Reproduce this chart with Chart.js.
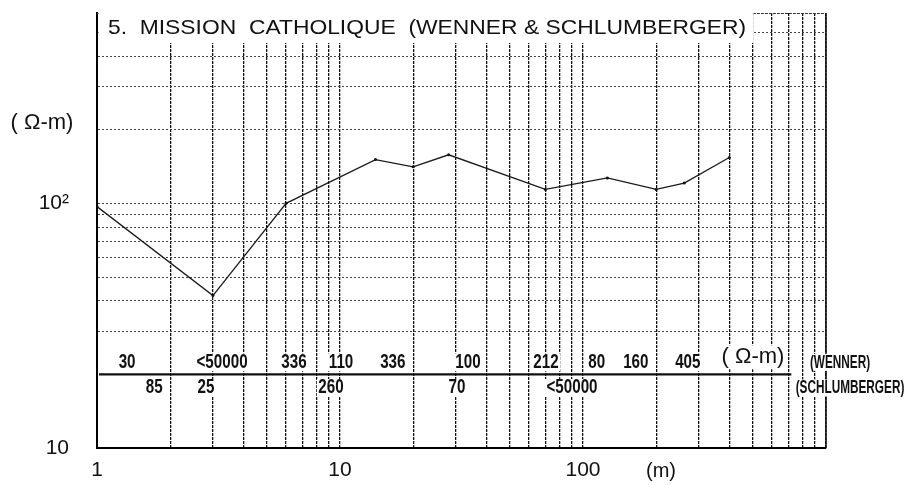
<!DOCTYPE html>
<html>
<head>
<meta charset="utf-8">
<script src="https://cdn.jsdelivr.net/npm/chart.js@4.4.1/dist/chart.umd.min.js"></script>
<style>
  html, body { margin: 0; padding: 0; background: #fff; }
  #wrap { width: 917px; height: 485px; }
</style>
</head>
<body>
<div id="wrap"><canvas id="chart"></canvas></div>
<script>
// sounding curve : electrode spacing (m) vs apparent resistivity (ohm-m)
const spacing     = [1, 3, 6, 14, 20, 28, 70, 126, 200, 261, 400];
const resistivity = [97, 42, 100, 151, 141, 158, 114, 127, 114, 121, 154];

// log grid + tick labels
const xGrid = [1,2,3,4,5,6,7,8,9,10,20,30,40,50,60,70,80,90,100,200,300,400,500,600,700,800,900,1000];
const yGrid = [10,20,30,40,50,60,70,80,90,100,200,300,400,500,600];
const xTickValues = [1, 10, 100];
const xTickLabels = ['1', '10', '100'];
const yTickValues = [10, 100];
const yTickLabels = ['10', '10²'];

// interpreted layer resistivities (ohm-m), placed at mid-depth of each layer (m)
const wennerPos = [1.33, 3.27, 6.47, 10.1, 16.5, 33.6, 70.4, 114, 165, 270];
const wennerRho = ['30', '<50000', '336', '110', '336', '100', '212', '80', '160', '405'];
const schlumPos = [1.72, 2.81, 9.18, 30.3, 90.1];
const schlumRho = ['85', '25', '260', '70', '<50000'];
const wennerRowY = 22.4;
const schlumRowY = 17.6;
const splitY = 20;

const FONT = '"Liberation Sans", Arial, sans-serif';
const TITLE = '5.  MISSION  CATHOLIQUE  (WENNER & SCHLUMBERGER)';

const annot = {
  id: 'annot',
  beforeDatasetsDraw(chart) {
    const {ctx, chartArea: a, scales: {x, y}} = chart;
    ctx.save();

    // top (dotted) and right frame
    ctx.strokeStyle = '#333';
    ctx.lineWidth = 1;
    ctx.setLineDash([2, 2]);
    ctx.beginPath(); ctx.moveTo(a.left, a.top + 0.5); ctx.lineTo(a.right, a.top + 0.5); ctx.stroke();
    ctx.setLineDash([]);
    ctx.strokeStyle = '#111';
    ctx.lineWidth = 1.6;
    ctx.beginPath(); ctx.moveTo(a.right, a.top); ctx.lineTo(a.right, a.bottom); ctx.stroke();

    // thick separator between the two rows
    const ys = y.getPixelForValue(splitY);
    ctx.lineWidth = 2.2;
    ctx.beginPath(); ctx.moveTo(a.left + 2, ys); ctx.lineTo(x.getPixelForValue(720), ys); ctx.stroke();

    // title box
    ctx.fillStyle = '#fff';
    ctx.fillRect(a.left + 1.5, a.top - 1, 655, 31);
    ctx.font = '21px ' + FONT;
    const tw = ctx.measureText(TITLE).width;
    ctx.save();
    ctx.translate(108, a.top + 21);
    ctx.scale(638 / tw, 1);
    ctx.fillStyle = '#111';
    ctx.textAlign = 'left';
    ctx.textBaseline = 'alphabetic';
    ctx.fillText(TITLE, 0, 0);
    ctx.restore();

    function narrow(txt, cx, cy, size, sx) {
      ctx.font = 'bold ' + size + 'px ' + FONT;
      const w = ctx.measureText(txt).width * sx;
      ctx.fillStyle = '#fff';
      ctx.fillRect(cx - w / 2 - 1.5, cy - size * 0.45, w + 3, size * 0.9);
      ctx.save();
      ctx.translate(cx, cy);
      ctx.scale(sx, 1);
      ctx.fillStyle = '#111';
      ctx.textAlign = 'center';
      ctx.textBaseline = 'middle';
      ctx.fillText(txt, 0, 0);
      ctx.restore();
    }

    const yw = y.getPixelForValue(wennerRowY);
    const yl = y.getPixelForValue(schlumRowY);
    wennerPos.forEach((p, i) => narrow(wennerRho[i], x.getPixelForValue(p), yw, 20, 0.76));
    schlumPos.forEach((p, i) => narrow(schlumRho[i], x.getPixelForValue(p), yl, 20, 0.76));
    narrow('(WENNER)', 840, yw, 19, 0.62);
    narrow('(SCHLUMBERGER)', 850, yl, 19, 0.62);

    // unit inside the strip
    ctx.font = '22px ' + FONT;
    const uw = ctx.measureText('( Ω-m)').width;
    ctx.fillStyle = '#fff';
    ctx.fillRect(753 - uw / 2 - 1, yw - 17, uw + 2, 24);
    ctx.fillStyle = '#111';
    ctx.textAlign = 'center';
    ctx.textBaseline = 'middle';
    ctx.fillText('( Ω-m)', 753, yw - 5);

    // axis units
    ctx.fillText('( Ω-m)', 42, 123);
    ctx.font = '20px ' + FONT;
    ctx.fillText('(m)', 661, 471);

    ctx.restore();
  }
};

new Chart(document.getElementById('chart'), {
  type: 'line',
  data: {
    datasets: [{
      data: spacing.map((s, i) => ({x: s, y: resistivity[i]})),
      borderColor: '#1a1a1a',
      borderWidth: 1.3,
      pointRadius: 1.5,
      pointBackgroundColor: '#111',
      pointBorderWidth: 0,
      tension: 0
    }]
  },
  options: {
    responsive: true,
    maintainAspectRatio: false,
    animation: false,
    devicePixelRatio: 1,
    layout: {padding: {top: 13, right: 91, left: 0, bottom: 0}},
    plugins: {legend: {display: false}, tooltip: {enabled: false}},
    scales: {
      x: {
        type: 'logarithmic',
        min: 1, max: 1000,
        afterBuildTicks: s => { s.ticks = xGrid.map(v => ({value: v})); },
        afterFit: s => { s.height = 37; s.paddingLeft = 0; s.paddingRight = 0; },
        grid: {color: '#111', lineWidth: 1.3, drawTicks: false},
        border: {display: true, color: '#000', width: 2, dash: [3, 1]},
        ticks: {
          autoSkip: false, maxRotation: 0, padding: 10, color: '#111',
          font: {family: FONT, size: 21},
          callback: v => { const i = xTickValues.indexOf(v); return i < 0 ? '' : xTickLabels[i]; }
        }
      },
      y: {
        type: 'logarithmic',
        min: 10, max: 600,
        afterBuildTicks: s => { s.ticks = yGrid.map(v => ({value: v})); },
        afterFit: s => { s.width = 97; s.paddingTop = 0; s.paddingBottom = 0; },
        grid: {
          color: c => (c.tick && (c.tick.value === splitY)) ? 'rgba(0,0,0,0)' : '#444',
          lineWidth: 1, drawTicks: false
        },
        border: {display: true, color: '#000', width: 2, dash: [2, 2]},
        ticks: {
          autoSkip: false, padding: 28, color: '#111',
          font: {family: FONT, size: 21},
          callback: v => { const i = yTickValues.indexOf(v); return i < 0 ? '' : yTickLabels[i]; }
        }
      }
    }
  },
  plugins: [annot]
});
</script>
</body>
</html>
